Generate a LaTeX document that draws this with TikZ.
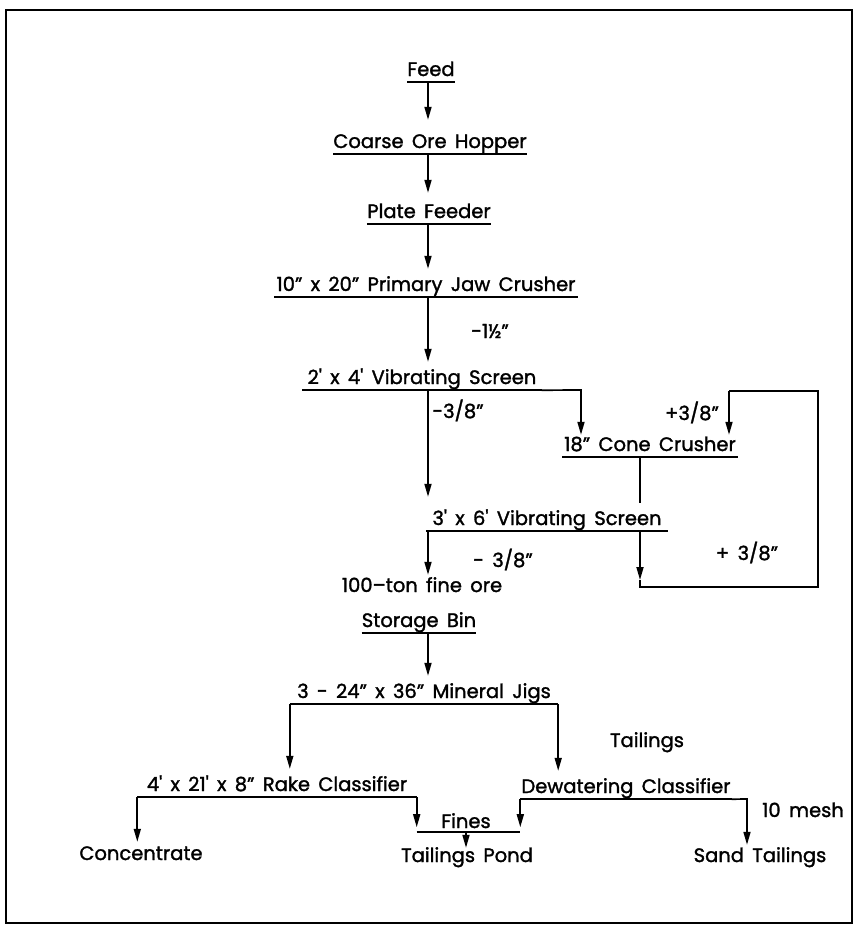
\documentclass[tikz,border=0pt]{standalone}
\usepackage{fontspec}
\setmainfont{Poppins}[FakeBold=1.5, WordSpace=1.6]
\usepackage{tikz}
\usetikzlibrary{arrows.meta, calc}
\tikzset{
  stage/.style = {anchor=base, inner sep=0pt, text height=22pt, text depth=6pt,
                  font=\fontsize{19.5}{23}\selectfont},
  tag/.style   = {anchor=base, inner sep=0pt, font=\fontsize{19.5}{23}\selectfont},
  bar/.style   = {-, line width=1.7pt},
  flow/.style  = {-{Triangle[length=13pt, width=7pt]}, line width=1.7pt},
  frame/.style = {line width=2pt},
}
\newcommand{\ft}{\textquotesingle}

\begin{document}
\begin{tikzpicture}[x=1pt, y=-1pt]
  \useasboundingbox (0,0) rectangle (856,927);
  \draw[frame] (6,10) rectangle (852,923);

  \coordinate (trunk) at (428,0);
  \node[stage, minimum width=44pt]  (feed)   at (431,76)  {Feed};
  \node[stage, minimum width=189pt] (hopper) at (430,148) {Coarse Ore Hopper};
  \node[stage, minimum width=124pt] (plate)  at (429,218) {Plate Feeder};
  \node[stage, minimum width=303pt] (jaw)    at (426,291) {10" x 20" Primary Jaw Crusher};
  \node[stage, minimum width=239pt] (scrA)   at (422,384) {2\ft{} x 4\ft{} Vibrating Screen};
  \node[stage, minimum width=175pt, text height=16pt] (cone) at (650,451) {18" Cone Crusher};
  \node[stage, minimum width=242pt] (scrB)   at (547,525) {3\ft{} x 6\ft{} Vibrating Screen};
  \node[stage, text height=17pt]    (ore)    at (422,592) {100--ton fine ore};
  \node[stage, minimum width=111pt] (bin)    at (419,627) {Storage Bin};
  \node[stage, minimum width=268pt] (jigs)   at (424,698) {3 - 24" x 36" Mineral Jigs};
  \node[stage, minimum width=279pt] (rake)   at (277,791) {4\ft{} x 21\ft{} x 8" Rake Classifier};
  \node[stage, minimum width=211pt] (dewat)  at (626,793) {Dewatering Classifier};
  \node[stage, text height=18pt] (conc) at (141,860) {Concentrate};
  \node[stage, text height=14pt] (pond) at (467,862) {Tailings Pond};
  \node[stage, text height=17pt] (sand) at (760,862) {Sand Tailings};

  \node[tag] (crush) at (490,338) {-1½"};
  \node[tag] (fineA) at (458,418) {-3/8"};
  \node[tag] (overA) at (692,420) {+3/8"};
  \node[tag] (fineB) at (503,567) {- 3/8"};
  \node[tag] (overB) at (747,560) {+ 3/8"};
  \node[tag] (tails) at (647,747) {Tailings};
  \node[tag, text depth=4pt] (fines) at (466,828) {Fines};
  \node[tag] (mesh)  at (803,817) {10 mesh};

  \foreach \n in {feed, hopper, plate, jaw, scrA, cone, scrB, bin, jigs, rake, dewat}
    \draw[bar] (\n.south west) -- (\n.south east);

  % main line
  \draw[flow, shorten >=6pt] (feed.south -| trunk) -- (trunk |- hopper.north);
  \draw[flow, shorten >=3pt] (hopper.south -| trunk) -- (trunk |- plate.north);
  \draw[flow] (plate.south -| trunk) -- (trunk |- jaw.north);
  \draw[flow] (jaw.south -| trunk) -- (trunk |- scrA.north);
  \draw[flow, shorten >=6pt] (scrA.south -| trunk) -- (trunk |- scrB.north);
  \draw[flow] (scrB.south -| trunk) -- (trunk |- ore.north);
  \draw[flow] (bin.south -| trunk) -- (trunk |- jigs.north);

  % crushing circuit
  \coordinate (toCone) at (581,390);
  \coordinate (ret)    at (640,587);
  \coordinate (loopR)  at (818,391);
  \coordinate (loopL)  at (729,391);
  \draw[flow] (scrA.south east) -- (toCone) -- (toCone |- cone.north);
  \draw[bar] (cone.south -| ret) -- (ret |- scrB.north);
  \draw[flow] (scrB.south -| ret) -- ([yshift=7pt]ret);
  \draw[bar] ([yshift=7pt]ret) -- (ret) -- (ret -| loopR) -- (loopR) -- (loopL);
  \draw[flow] (loopL) -- (loopL |- cone.north);

  % jigs and classifiers
  \coordinate (toSand) at (747,799);
  \draw[flow] (jigs.south west) -- (jigs.south west |- rake.north);
  \draw[flow] (jigs.south east) -- (jigs.south east |- dewat.north);
  \draw[flow] (rake.south west) -- (rake.south west |- conc.north);
  \draw[flow, shorten >=5pt] (rake.south east) -- (rake.south east |- fines.south);
  \draw[flow, shorten >=5pt] (dewat.south west) -- (dewat.south west |- fines.south);
  \draw[bar] (rake.south east |- fines.south) -- (dewat.south west |- fines.south);
  \draw[flow] (fines.south) -- (fines.south |- pond.north);
  \draw[flow] (dewat.south east) -- (toSand) -- (toSand |- sand.north);
\end{tikzpicture}
\end{document}
